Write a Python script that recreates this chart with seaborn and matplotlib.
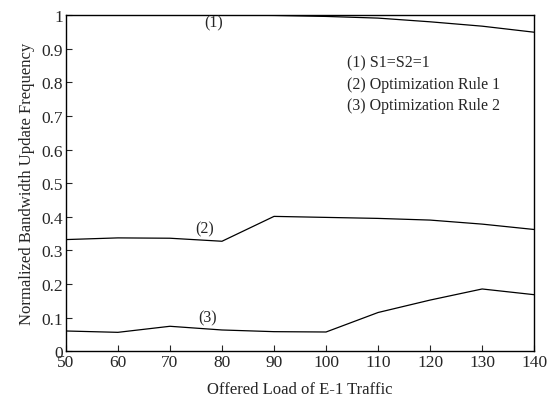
import numpy as np
import pandas as pd
import seaborn as sns
import matplotlib
matplotlib.use("Agg")
import matplotlib.pyplot as plt

load = [50, 60, 70, 80, 90, 100, 110, 120, 130, 140]
s1 = [1.0, 1.0, 1.0, 1.0, 0.999, 0.996, 0.991, 0.98, 0.967, 0.949]
s2 = [0.332, 0.337, 0.336, 0.327, 0.401, 0.398, 0.395, 0.39, 0.378, 0.362]
s3 = [0.06, 0.056, 0.074, 0.063, 0.058, 0.057, 0.115, 0.152, 0.185, 0.168]
series_names = ["(1)", "(2)", "(3)"]
legend_lines = ["(1) S1=S2=1", "(2) Optimization Rule 1", "(3) Optimization Rule 2"]
xticks = [50, 60, 70, 80, 90, 100, 110, 120, 130, 140]
yticks = [0, 0.1, 0.2, 0.3, 0.4, 0.5, 0.6, 0.7, 0.8, 0.9, 1]
ytick_labels = ["0", "0.1", "0.2", "0.3", "0.4", "0.5", "0.6", "0.7", "0.8", "0.9", "1"]

df = pd.DataFrame({
    "load": load * 3,
    "value": s1 + s2 + s3,
    "series": [series_names[0]] * len(load) + [series_names[1]] * len(load) + [series_names[2]] * len(load),
})

sns.set_style("ticks")
plt.rcParams["font.family"] = ["Liberation Serif", "DejaVu Serif"]

fig = plt.figure(figsize=(5.49, 4.02), dpi=100)
ax = fig.add_axes([0.120, 0.124, 0.853, 0.836])
sns.lineplot(data=df, x="load", y="value", hue="series",
             palette=["black", "black", "black"], linewidth=0.9,
             legend=False, ax=ax)

ax.set_xlim(50, 140)
ax.set_ylim(0, 1)
ax.set_xticks(xticks)
ax.set_yticks(yticks)
ax.set_yticklabels(ytick_labels)
ax.tick_params(direction="in", length=4, width=0.8, labelsize=12.5, pad=2)
for sp in ax.spines.values():
    sp.set_visible(True)
    sp.set_linewidth(1.0)
    sp.set_color("black")

ax.set_xlabel("Offered Load of E-1 Traffic", fontsize=12, labelpad=8)
ax.set_ylabel("Normalized Bandwidth Update Frequency", fontsize=12, labelpad=5)

ax.text(78.3, 0.978, series_names[0], fontsize=11.5, ha="center", va="center")
ax.text(76.7, 0.366, series_names[1], fontsize=11.5, ha="center", va="center")
ax.text(77.3, 0.100, series_names[2], fontsize=11.5, ha="center", va="center")

for i, t in enumerate(legend_lines):
    ax.text(104.0, 0.86 - i * 0.064, t, fontsize=11.5, ha="left", va="center")

fig.savefig("out.png", dpi=100)
